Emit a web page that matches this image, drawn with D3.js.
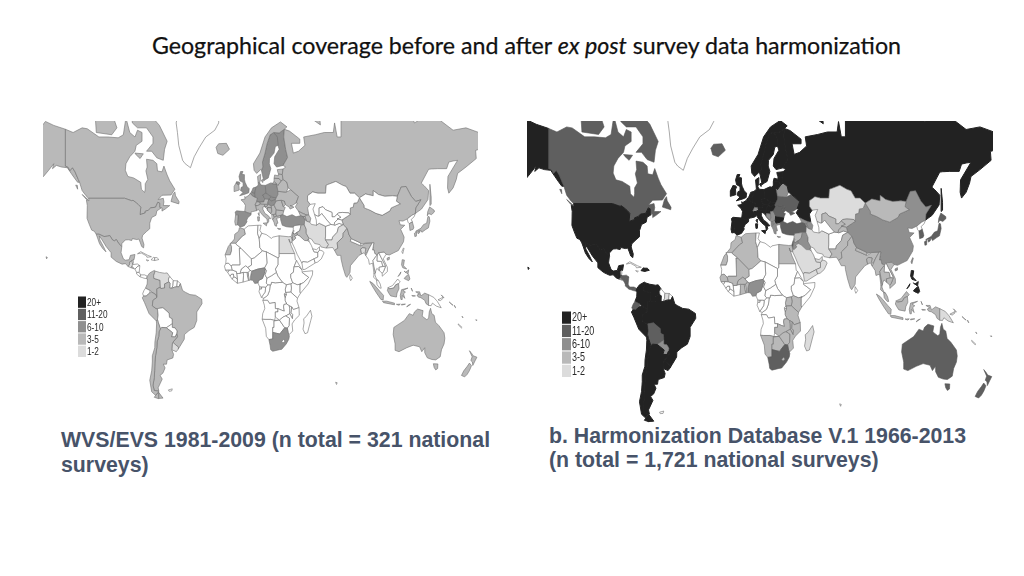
<!DOCTYPE html>
<html>
<head>
<meta charset="utf-8">
<script src="https://cdn.jsdelivr.net/npm/d3@7"></script>
<style>
  html, body { margin: 0; padding: 0; background: #fff; }
  svg { display: block; }
  .country { stroke-linejoin: round; }
</style>
</head>
<body>
<svg id="chart" width="1024" height="576"></svg>
<script>
// survey count bins, darkest first
const bins = ["20+", "11-20", "6-10", "3-5", "1-2"];
const binColors = ["#222222", "#5e5e5e", "#8f8f8f", "#b9b9b9", "#dcdcdc"];

// left map: WVS/EVS
const wvs20 = [];
const wvs11 = [];
const wvs6 = ["Sweden", "Finland", "Spain", "Germany", "Poland", "United Kingdom", "Turkey", "Netherlands", "Belgium", "Czechia", "Hungary", "Nigeria", "South Africa", "Slovakia"];
const wvs3 = ["Alaska", "Canada", "USA", "Mexico", "Iceland", "Norway", "Denmark", "Ireland", "France", "Portugal", "Italy", "Austria", "Switzerland", "Slovenia", "Croatia", "Bosnia", "Serbia", "Macedonia", "Bulgaria", "Romania", "Moldova", "Ukraine", "Belarus", "Lithuania", "Latvia", "Estonia", "Greece", "Russia", "Morocco", "China", "India", "Japan", "South Korea", "Brazil", "Peru", "Colombia", "Chile", "Argentina", "Australia", "New Zealand", "Indonesia", "Philippines", "Georgia", "Armenia", "Azerbaijan", "Iraq", "Jordan", "Papua"];
const wvs1 = ["Venezuela", "Uruguay", "Egypt", "Iran", "Pakistan", "Bangladesh", "Albania", "Guatemala", "El Salvador"];

// right map: Harmonization Database
const hdb20 = ["Alaska", "USA", "Mexico", "Guatemala", "Dominican Rep", "Haiti", "Colombia", "Venezuela", "Peru", "Brazil", "Chile", "Argentina", "Uruguay", "Philippines", "Russia", "Norway", "Sweden", "Finland", "Denmark", "Estonia", "Latvia", "Lithuania", "United Kingdom", "Ireland", "France", "Spain", "Portugal", "Germany", "Netherlands", "Belgium", "Poland", "Czechia", "Slovakia", "Hungary", "Austria", "Italy", "Bulgaria", "Slovenia", "Croatia"];
const hdb11 = ["Canada", "Iceland", "Ecuador", "Bolivia", "Ukraine", "Moldova", "Romania", "Turkey", "Japan", "South Korea", "Australia", "New Zealand", "South Africa", "Honduras", "Nicaragua", "Costa Rica", "Panama", "Israel"];
const hdb6 = ["Paraguay", "Belarus", "Switzerland", "Serbia", "Bosnia", "Macedonia", "Albania", "Greece", "China", "Nigeria", "Jordan", "Iraq", "Georgia", "Armenia", "Azerbaijan", "El Salvador", "Taiwan"];
const hdb3 = ["Mongolia", "Uzbekistan", "Kyrgyzstan", "Tajikistan", "Pakistan", "India", "Nepal", "Bangladesh", "Myanmar", "Thailand", "Vietnam", "Cambodia", "Malaysia", "Indonesia", "Syria", "Lebanon", "Morocco", "Algeria", "Mali", "Senegal", "Burkina Faso", "Ghana", "Benin", "Egypt", "Uganda", "Kenya", "Tanzania", "Zambia", "Zimbabwe", "Malawi", "Mozambique", "Botswana", "Namibia", "Lesotho", "Papua"];
const hdb1 = ["Kazakhstan", "Iran", "Saudi Arabia", "Yemen", "Oman", "UAE", "Kuwait", "Suriname", "Madagascar", "Papua New Guinea"];

// lon,lat outlines, polygons split by |
const outlines = {
  "Alaska": "-168,65.5 -166,68.3 -163,69 -156.5,71.3 -150,70.5 -141,69.7 -141,60.3 -139,60 -137.5,58.9 -135.5,59.8 -133.5,58.5 -131,56 -130,55 -131.5,55 -134,56.5 -136.5,58 -139.5,59.8 -144,60 -148,60.5 -151,59.5 -150,61 -154,59 -158,57 -163,55 -160,58.5 -165,61 -164,63 -161,64.5 -166,64.5",
  "Canada": "-141,69.7 -135,69 -128,70 -124,69.8 -115,68 -108,68 -100,67.8 -96,68.5 -94,72 -91,69 -87,68 -85,69.5 -81.5,69 -81.5,67 -86,66 -87,64.5 -91,63 -94,61 -94.5,59 -92.5,57 -88,56.5 -82.5,55 -82,52.5 -79.5,51.3 -79,52.5 -79,54.5 -77,56 -78.5,58.8 -77.5,60 -78,62.3 -73,62 -70,61 -69.5,58.8 -66,58.5 -64.5,60.3 -62,57.5 -60,55.5 -56,52.5 -59,50.3 -66,50.2 -69,48.5 -65,49 -64.5,47.5 -65,46 -61,46 -60,46 -63.5,44.5 -66,43.6 -66,45 -67.8,45.2 -67.8,47 -69.2,47.4 -71,45.3 -74.7,45 -76.5,44 -79,43.5 -79,42.8 -83,42 -82.5,45.3 -84.5,46.5 -88.5,48.2 -89.5,48 -95,49 -123,49 -125,50 -128,52 -130,55 -131,56 -133.5,58.5 -135.5,59.8 -137.5,58.9 -139,60 -141,60.3|-65,62 -70,62.7 -74,64.5 -78,64.5 -73,66.5 -73,68 -78,70 -85,70 -89,71 -90,73.5 -80,74 -76,72.8 -68,70.5 -62,67 -64,65|-117,69 -105,68.5 -101,70 -105,73 -118,73|-125,72 -120,71.5 -118,74.5 -124,74.5|-87,64 -80.5,63.8 -83,62.5 -86,63.5|-128,50.5 -123.5,48.5 -125,48.7|-59,47.7 -53,46.7 -52.7,47.6 -55.5,50 -56,51.5 -57.5,50.5|-133,54 -131.7,53.9 -131.5,52.5|-100,73 -95,72 -93,74.5 -100,75",
  "USA": "-123,49 -95,49 -89.5,48 -88.5,48.2 -84.5,46.5 -82.5,45.3 -83,42 -79,42.8 -79,43.5 -76.5,44 -74.7,45 -71,45.3 -69.2,47.4 -67.8,47 -67.8,45.2 -67,44.8 -70,43.7 -70.7,41.7 -74,40.7 -75.5,38 -75.5,35.3 -78,33.9 -81,32 -81.5,30.5 -80,27 -80.3,25.2 -81.8,26 -82.8,28 -84,30 -85.5,29.7 -89,30.2 -89.5,29.2 -92,29.6 -94.5,29.5 -97.2,27.5 -97.2,25.9 -99.5,27.5 -101.4,29.7 -103,29 -104.5,29.6 -106.5,31.8 -108.2,31.5 -111,31.3 -114.8,32.5 -117.1,32.5 -118.5,34 -120.6,34.6 -122.5,37.5 -124.2,40.3 -124,46 -124.7,48.4 -122.7,48|-156,20.2 -155,19.8 -155.6,19",
  "Mexico": "-117.1,32.5 -114.8,32.5 -111,31.3 -108.2,31.5 -106.5,31.8 -104.5,29.6 -103,29 -101.4,29.7 -99.5,27.5 -97.2,25.9 -97.8,22.5 -96,19 -94.5,18.2 -91.5,18.5 -90.5,21 -87,21.5 -87.7,18.5 -88.3,18.5 -89.2,17.9 -91,17.2 -91,16 -92.2,14.5 -94.5,16.2 -97,15.9 -101.5,17.5 -105.5,20 -105.5,22.5 -109.4,26 -112.5,29.5 -114.7,31.7 -114.2,29.5 -111.5,26 -109.5,23 -112,24.8 -114.5,27.5 -116,30.5",
  "Greenland": "-43.9,59.8 -41,63 -37,65.5 -32,68 -25,69.5 -22,71 -22,76 -50,76 -55,71 -54,69 -53,66 -50,62 -48,61",
  "Guatemala": "-92.2,14.5 -91,16 -91,17.2 -89.2,17.9 -88.9,15.9 -88.2,15.7 -89.3,14.4 -90.1,13.8",
  "Belize": "-89.2,17.9 -88.3,18.5 -88.2,16.5 -88.9,15.9",
  "Honduras": "-88.9,15.9 -88.2,15.7 -85,16 -83.2,15 -84.7,14.7 -87,13 -87.8,13.4 -89.3,14.4",
  "El Salvador": "-90.1,13.8 -89.3,14.4 -87.8,13.4 -88,13.2",
  "Nicaragua": "-83.2,15 -83.7,11 -85.7,11 -87,13 -84.7,14.7",
  "Costa Rica": "-83.7,11 -82.6,9.5 -83,8.3 -85.7,10 -85.7,11",
  "Panama": "-82.6,9.5 -79.5,9.5 -77.4,8.7 -77.9,7.2 -80,7.5 -81,7.8 -83,8.3",
  "Cuba": "-85,21.9 -82.5,23.1 -77,21 -74.2,20.2 -77.7,19.9 -78,20.7 -82,22.3",
  "Haiti": "-74.4,18.4 -72.7,19.9 -71.7,19.7 -71.7,18",
  "Dominican Rep": "-71.7,19.7 -69.9,19.7 -68.4,18.6 -71.7,18",
  "Jamaica": "-78.3,18.4 -76.3,18.1 -77,17.7",
  "Colombia": "-77.4,8.7 -75.5,10.7 -72,12.2 -71.3,11.8 -72.5,9 -72.3,7.4 -67.5,6.2 -67.3,2 -70,1 -69.9,-4.2 -70.8,-2.5 -74,-1 -75.3,0 -78.8,1.4 -77.5,4 -77.3,7 -77.9,7.2",
  "Venezuela": "-71.3,11.8 -68,11 -64,10.5 -62,10.7 -60,8.5 -61,7 -60.7,5.2 -64,4 -64,1.5 -67,1.2 -67.3,2 -67.5,6.2 -72.3,7.4 -72.5,9",
  "Guyana": "-60,8.5 -57.2,6 -57.5,3 -58.5,1.3 -60,1.5 -59.8,4.5 -60.7,5.2 -61,7",
  "Suriname": "-57.2,6 -54,5.9 -54.5,2.3 -56.5,2 -58.5,1.3 -57.5,3",
  "French Guiana": "-54,5.9 -51.7,4.2 -52.9,2.2 -54.5,2.3",
  "Ecuador": "-78.8,1.4 -75.3,0 -75.5,-1.5 -78.3,-3.4 -80.3,-3.4 -81,-2 -80,0",
  "Peru": "-80.3,-3.4 -78.3,-3.4 -75.5,-1.5 -74,-1 -70.8,-2.5 -69.9,-4.2 -73,-6 -73.5,-9.3 -70.6,-11 -69.5,-11 -69,-15 -69.5,-17.5 -70.4,-18.3 -76,-14 -79.5,-7.5 -81.3,-4.5",
  "Brazil": "-51.7,4.2 -50,0 -48,-1 -44.3,-2.5 -40,-2.9 -35.2,-5.3 -34.9,-8 -39,-13 -39,-18 -41,-22 -45,-23.8 -48.6,-26 -48.7,-28.5 -52,-32.2 -53.4,-33.7 -53.2,-32.7 -57.6,-30.2 -54,-27.2 -54.6,-25.6 -54.3,-24 -55.8,-22.3 -58,-22 -58,-19.9 -58.2,-17 -60.2,-16.2 -60.5,-13.7 -65.3,-10.5 -69.5,-11 -70.6,-11 -73.5,-9.3 -73,-6 -69.9,-4.2 -70,1 -67.3,2 -67,1.2 -64,1.5 -64,4 -60.7,5.2 -59.8,4.5 -60,1.5 -58.5,1.3 -56.5,2 -54.5,2.3 -52.9,2.2",
  "Bolivia": "-69.5,-11 -65.3,-10.5 -60.5,-13.7 -60.2,-16.2 -58.2,-17 -58,-19.9 -62.6,-22.2 -66.2,-22 -67.2,-22.8 -69,-19 -69.5,-17.5 -69,-15",
  "Paraguay": "-58,-19.9 -58,-22 -55.8,-22.3 -54.3,-24 -54.6,-25.6 -55.7,-27.3 -58.6,-27.2 -57.7,-25 -62.6,-22.2",
  "Uruguay": "-57.6,-30.2 -53.2,-32.7 -53.4,-33.7 -54.9,-35 -58.4,-34 -58,-31",
  "Argentina": "-66.2,-22 -62.6,-22.2 -57.7,-25 -58.6,-27.2 -55.7,-27.3 -54.6,-25.6 -54,-27.2 -57.6,-30.2 -58,-31 -58.4,-34 -57,-36.3 -57.6,-38.1 -62,-39 -62.5,-41 -65,-41 -63.6,-42.7 -65.3,-45 -67.5,-46 -65.8,-47.5 -69,-51 -68.4,-52.3 -72,-52 -73,-50 -72,-47 -71.7,-44 -71.5,-40 -71,-37 -70,-33 -69.8,-30 -68.5,-27 -68.3,-24.5 -67.2,-22.8|-68.6,-52.7 -68.6,-54.9 -65.2,-54.8",
  "Chile": "-69.5,-17.5 -69,-19 -67.2,-22.8 -68.3,-24.5 -68.5,-27 -69.8,-30 -70,-33 -71,-37 -71.5,-40 -71.7,-44 -72,-47 -73,-50 -72,-52 -68.4,-52.3 -71,-53.8 -74,-52.5 -75.5,-48 -74,-44 -73.5,-40 -73.5,-37 -71.6,-33 -71.5,-30 -70.5,-25 -70.2,-20 -70.4,-18.3|-68.6,-52.7 -70.5,-53.6 -72,-54.5 -68.6,-55",
  "Falklands": "-61,-51.8 -58,-51.4 -58.5,-52.2 -60.5,-52.3",
  "Iceland": "-24,65.5 -22,66.4 -16,66.5 -13.6,65 -18.7,63.4 -22.7,63.9",
  "Ireland": "-10,53.5 -8,55.2 -8,54.5 -6.3,54.1 -6,52.2 -10,51.6",
  "United Kingdom": "-5.7,50 -1,50.7 1.4,51.2 1.7,52.7 0,53.5 -1.5,55 -2,56 -2,57.6 -4,57.7 -3.1,58.6 -5,58.6 -6.2,57 -5.5,55.5 -3,54.9 -3,53.5 -4.5,53.2 -5,52 -3,51.4|-8,54.5 -8,55.2 -6,55.1 -5.5,54.5 -6.3,54.1",
  "France": "2.5,51 1.6,50.2 -1,49.4 -1.8,49.7 -1.5,48.7 -4.7,48.4 -2.2,47.1 -1.2,46 -1.8,43.4 0.7,42.8 3.2,42.4 3.1,43.2 4.5,43.4 7.5,43.8 7,45.5 7,46 6.2,46.2 7.5,47.6 8.2,49 6.2,49.5 4.2,50|8.6,42.4 9.4,43 9.5,41.5",
  "Spain": "-1.8,43.4 0.7,42.8 3.2,42.4 3,41.8 0.7,40.7 -0.3,39.4 0,38.7 -2,36.8 -5.3,36 -6.4,36.9 -7.4,37.2 -7.2,39 -6.9,41.9 -8.8,41.9 -9.2,43.2 -8,43.7",
  "Portugal": "-8.8,41.9 -6.9,41.9 -7.2,39 -7.4,37.2 -8.9,37 -9.5,38.7",
  "Belgium": "2.5,51 3.4,51.4 6,51 6.2,49.5 4.2,50",
  "Netherlands": "3.4,51.4 4.7,53 7,53.3 6,51",
  "Germany": "6,51 7,53.3 8.8,54 8.6,55 9.8,54.8 11,54 14.2,53.9 14.7,51 12.2,50.3 13.8,48.8 13,47.5 10,47.4 7.5,47.6 8.2,49 6.2,49.5",
  "Denmark": "8.6,55 8.2,57 10.6,57.7 10.5,56 9.8,54.8|11,55.7 12.5,56 12.2,54.9",
  "Switzerland": "6.2,46.2 7.5,47.6 10,47.4 10.4,46.6 8.5,46 7,46",
  "Austria": "10,47.4 13,47.5 13.8,48.8 17,48.7 16.1,47 16.5,46.5 13.7,46.5 10.4,46.6",
  "Italy": "7,45.5 7.5,43.8 8.8,44.4 10.5,43 12.5,41.5 15.5,40 16,38 17,39 16.5,40 18.5,40.2 16,41.8 14,42.5 12.4,44.3 12.3,45.3 13.7,45.7 13.7,46.5 10.4,46.6 8.5,46 7,46|12.5,38 15.5,38.2 15.1,36.7|8.2,41 9.7,41 9.5,39.1 8.5,39",
  "Poland": "14.2,53.9 18.5,54.8 23,54.4 23.9,52 24,50.5 22.7,49.2 19,49.4 18.8,49.6 14.7,51",
  "Czechia": "12.2,50.3 14.7,51 18.8,49.6 17,48.7 13.8,48.8",
  "Slovakia": "18.8,49.6 19,49.4 22.7,49.2 22,48.4 18.8,47.9 17,48.7",
  "Hungary": "17,48.7 18.8,47.9 22,48.4 22.8,48 21,46.2 18.8,45.9 16.5,46.5 16.1,47",
  "Slovenia": "13.7,46.5 16.5,46.5 15.5,45.7 13.7,45.5",
  "Croatia": "13.7,45.5 15.5,45.7 16.5,46.5 18.8,45.9 19,45 16,45.2 15.8,44 18.5,42.5 14.9,44.9",
  "Bosnia": "16,45.2 19,45 19.3,43.5 18.5,42.5 15.8,44",
  "Serbia": "18.8,45.9 21,46.2 22.7,44.2 22.4,42.3 20.5,42 19.3,41.9 18.5,42.5 19.3,43.5 19,45",
  "Albania": "19.3,41.9 20.5,42 21,40.8 20,39.7 19.4,40.5",
  "Macedonia": "20.5,42 22.4,42.3 23,41.3 21,40.8",
  "Greece": "20,39.7 21,40.8 23,41.3 26.3,41.7 26,40.8 23,40.3 24,38 23,37.9 23,36.5 21.7,36.8 21,38.4|23.6,35.5 26.3,35.2 24.8,34.9",
  "Bulgaria": "22.7,44.2 28.6,43.7 27.8,42 26.3,41.7 23,41.3 22.4,42.3",
  "Romania": "21,46.2 22.8,48 26.6,48.2 28.2,45.5 29.7,45.2 28.6,43.7 22.7,44.2",
  "Moldova": "26.6,48.2 29,47.9 30,46.4 28.2,45.5",
  "Ukraine": "24,50.5 24,51.7 30.5,51.4 34,52.3 40,49.7 38.2,47.1 35,46 33.5,46 36.5,45.3 33.5,44.5 32.5,45.5 30.7,46 30,46.4 29,47.9 26.6,48.2 22.8,48 22,48.4 22.7,49.2",
  "Belarus": "23.9,52 24,51.7 30.5,51.4 32,53 31,55 28,56 26.5,55.5 24,53.9 23,54.4",
  "Lithuania": "21,55.3 21,56.4 25,56.3 26.5,55.5 24,53.9 23,54.4",
  "Latvia": "21,56.4 21.5,57.5 24.3,57.2 24.4,57.9 27.4,57.6 28,56 26.5,55.5 25,56.3",
  "Estonia": "23.5,59.2 28,59.4 27.4,57.6 24.4,57.9 24,58.3",
  "Finland": "21,61 21.5,63 25,65 24,66 23.6,67.9 20.8,69 25,68.9 29,69.7 28.5,68 30,65 31.5,62.8 28,60.5 23,60",
  "Sweden": "11.2,59 13,55.5 14.5,56 16.5,56.5 18.5,59.5 17.3,61 17.5,62.5 21,64 22,65.7 24,66 23.6,67.9 20.8,69 18,68.5 15.5,66.3 14,64 12,61.5 12.3,60",
  "Norway": "5,61 5.5,59 7.5,58 10.6,59.2 11.2,59 12.3,60 12,61.5 14,64 15.5,66.3 18,68.5 20.8,69 25,68.9 29,69.7 31,70.2 26,71.2 19,70 14,68 10,64",
  "Russia": "30,60 28,59.4 27.4,57.6 28,56 31,55 32,53 34,52.3 40,49.7 38.2,47.1 39.2,47 37.5,45.5 40,43.5 43.5,42.5 46.5,41.8 48,41.8 47.5,43.5 47,45 49,46.5 47,48 47,50 51,51.5 55,51 61,51 61.5,54 69,55.3 74,54 77,53.5 80,51 83.5,51 87.3,49.2 92,50.7 98,50 98,52 102,50.5 107,49.8 113,50 116.7,49.8 119.7,53.3 123.5,53.5 127.5,49.8 131,47.7 135,48.4 131,45 130.7,42.5 132.5,43.3 135.5,44.5 140.5,48.5 141,52 137.5,53.8 135.3,54.7 141,59.3 143,59.4 148,59.5 155,59.5 156.7,61.5 160,61.8 163.5,62 156,57 155.7,53 156.7,51 160,53 162.5,56 163.5,58 170,60 178,62.5 177.5,64.7 180,65 180,69 170,70 160,69.5 150,71.5 140,72.5 130,71 127,73 113,74 105,77 90,75 80,73 73,73 73,68 70,68 68,71 67,69 60,69 53,68.5 44,68 45,66 40,64.5 36,64 34.5,66.5 41,66.5 41,67.5 33,69.3 29,69.7 28.5,68 30,65 31.5,62.8 28,60.5|142,54.3 143,49.5 143,46.5 142,46 142,50|19.8,54.4 21,55.3 23,54.4|52,71.5 57,70.6 56,73 52,73",
  "Georgia": "40,43.5 43.5,42.5 46.5,41.8 45,41.2 43.5,41.1 41.5,41.5",
  "Armenia": "43.5,41.1 45,41.2 46.5,38.9 44.8,39.7",
  "Azerbaijan": "46.5,41.8 48,41.8 49.5,40.3 48.9,38.4 46.5,38.9 45,41.2",
  "Turkey": "26.3,41.7 28,42 31,41.1 35,42 38,41 41.5,41.5 43.5,41.1 44.8,39.7 44.5,37.2 42,37.2 36.6,36.8 36,36 32.5,36.1 30.5,36.3 27.4,37 26.2,39.5 26,40.8",
  "Syria": "36,36 36.6,36.8 42,37.2 41,34.4 38.8,33.4 36.5,32.4 35.7,33.3 36.5,34.2 35.9,34.6",
  "Lebanon": "35.1,33.1 35.9,34.6 36.5,34.2 35.7,33.3",
  "Israel": "34.3,31.3 35.1,33.1 35.7,33.3 35.5,31.5 35,29.5",
  "Jordan": "35.7,33.3 36.5,32.4 38.8,33.4 39.2,32.1 37,31.5 38,30.5 36,29.2 35,29.5 35.5,31.5",
  "Iraq": "42,37.2 44.5,37.2 46,35 46,33 48,30.5 47.7,30 47,29.1 44.7,29.2 41,31.5 39.2,32.1 38.8,33.4 41,34.4",
  "Kuwait": "47.7,30 48.3,28.6 47,29.1",
  "Saudi Arabia": "35,29.5 36,29.2 38,30.5 37,31.5 39.2,32.1 41,31.5 44.7,29.2 47,29.1 48.3,28.6 50,26.5 51,24.7 52,23 55,22.7 55,20 52,19 47,17 43.3,17.4 42.7,16.4 39,21.5 37,25 35,28",
  "Yemen": "42.7,16.4 43.3,17.4 47,17 52,19 53,16.6 45,12.8 43.4,12.7",
  "Oman": "52,19 55,20 55,22.7 56.3,24 58.7,23.5 59.8,22.4 57.7,19 55,17.2 53,16.6",
  "UAE": "51,24.7 52,23 55,22.7 56.3,24 56.3,25.8 54,24.2",
  "Iran": "44.8,39.7 46.5,38.9 48.9,38.4 50,37.4 54,37 56,38 61,36.5 61,31.5 60.8,30 61,29.5 63.3,27 61.6,25.1 57.5,25.7 56.5,27 52.5,27.6 50,30 48,30.5 46,33 46,35 44.5,37.2",
  "Afghanistan": "61,36.5 65,37.4 67.8,37.2 68,37 71.5,37.9 74.8,37.3 71,36 70,33.5 66.5,31 66,29.5 61,29.5 60.8,30 61,31.5",
  "Pakistan": "61,29.5 66,29.5 66.5,31 70,33.5 71,36 74.8,37.3 77.7,35.5 74.7,33 74.5,31 70,28 70.5,25 68,23.8 66.5,25.4 61.6,25.1 63.3,27",
  "India": "77.7,35.5 74.7,33 74.5,31 70,28 70.5,25 68,23.8 70,21 72.8,21 73,19 74.5,14 76.5,9 77.5,8 80,11 80.3,15 82.5,17 87,21 89,21.8 88.2,24.5 89.8,25.3 92.2,25 91.8,23 93,22 94.5,24.5 97.3,28 92,27.8 89.8,26.8 88.2,26.4 80.2,28.8 81,30.2 79,32.5 78.5,34",
  "Nepal": "80.2,28.8 88.2,26.4 88.2,27.9 81,30.2",
  "Bangladesh": "89,21.8 88.2,24.5 89.8,25.3 92.2,25 91.8,23 92.3,20.8 91,22.5",
  "Sri Lanka": "80,9.7 81.8,7.5 80.5,6 79.8,7.5",
  "China": "74.8,37.3 73.6,39.5 80,42 80.3,45 82.5,45.3 83,47 85.7,47.2 87.3,49.2 91,46 91,45 95.5,44 100,42.6 105,41.7 111,43.7 112,45 119,46.7 116,47.8 116.7,49.8 119.7,53.3 123.5,53.5 127.5,49.8 131,47.7 135,48.4 131,45 130.7,42.5 128,41.7 124.4,40 121,39 118,39.2 119,37.2 122.5,37 119.3,35 122,31 121.5,28.5 117.5,23.7 113.5,22.3 110.5,21.2 108,21.6 106.5,22.8 102.3,22.5 101.2,21.2 99.2,22 98.7,24 97.5,24 98.5,28 97.3,28 92,27.8 88.8,27.3 88.2,27.9 81,30.2 79,32.5 78.5,34 77.7,35.5|108.7,19.3 110.5,20 110.5,18.7 109,18.2",
  "Taiwan": "120.2,23 121.5,25.2 121.9,24.8 120.9,22",
  "Mongolia": "87.3,49.2 92,50.7 98,50 98,52 102,50.5 107,49.8 113,50 116.7,49.8 116,47.8 119,46.7 112,45 111,43.7 105,41.7 100,42.6 95.5,44 91,45 91,46",
  "Kazakhstan": "47,48 49,46.5 53,46.8 51.2,44.5 52.5,42 54.8,41.3 56,41.3 56,45 59,45.5 61,44.2 66,43 66,41 68,41 70,42.2 71,42.8 74,43 79,42.8 80,42 80.3,45 82.5,45.3 83,47 85.7,47.2 87.3,49.2 83.5,51 80,51 77,53.5 74,54 69,55.3 61.5,54 61,51 55,51 51,51.5 47,50",
  "Uzbekistan": "56,45 59,45.5 61,44.2 66,43 66,41 68,41 70,42.2 71.5,41.5 73,40.8 71,40.2 68,38.3 67.8,37.2 65,37.4 62,39.5 58,42.5 56,41.3",
  "Turkmenistan": "52.5,42 54.8,41.3 56,41.3 58,42.5 62,39.5 65,37.4 61,36.5 56,38 54,37 53.8,39.5",
  "Kyrgyzstan": "70,42.2 71,42.8 74,43 79,42.8 80,42 73.6,39.5 70,40 71,40.2 73,40.8 71.5,41.5",
  "Tajikistan": "68,38.3 71,40.2 70,40 73.6,39.5 74.8,37.3 71.5,37.9 68,37 67.8,37.2",
  "Myanmar": "92.3,20.8 93,22 94.5,24.5 97.3,28 98.5,28 97.5,24 98.7,24 99.2,22 101.2,21.2 100,20.3 97.8,18 98.6,14.5 99.5,11 98.6,10 98,14 97.5,16.5 95,15.8 94.4,18.5",
  "Thailand": "100,20.3 101.2,21.2 101,17.7 104.5,17.5 105.5,14.5 102.5,14 102.8,12 100.8,13.4 100,12 99.3,9.5 100.5,7 102,6 100.5,6.5 98.3,8 98.6,10 99.5,11 98.6,14.5 97.8,18",
  "Laos": "101.2,21.2 102.3,22.5 104,20 107.5,15 105.5,14.5 104.5,17.5 101,17.7",
  "Vietnam": "102.3,22.5 106.5,22.8 108,21.6 105.8,19 109,14 109,11.5 105,8.7 105,10.5 106,11.5 107.5,14.5 107.5,15 104,20",
  "Cambodia": "102.8,12 102.5,14 105.5,14.5 107.5,14.5 106,11.5 105,10.5",
  "Malaysia": "100.5,6.5 102,6 103.4,4 104.2,1.4 103,1.5 101,3.5|109.6,1.8 113,3 115,5 117,7 119,5.2 117.7,4.2 115.5,3.5 114,1.5 110.5,1",
  "Indonesia": "109,0 109.6,1.8 110.5,1 114,1.5 115.5,3.5 117.7,4.2 118,1 116.5,-1.5 116,-4 111.5,-3.3 110,-1.5|95.3,5.6 98,4.2 103.5,-0.8 106,-3 105.7,-5.8 104,-5.5 100.5,-1.5 97,3|105.2,-6.5 108.5,-6.5 114.5,-7.7 114.5,-8.7 106,-7.4|119.5,-5.5 119,-3 120,0.5 125,1.5 121,0 123,-1 121.5,-2 122.5,-4.8 120.5,-3 120.5,-5.5|116,-8.4 117,-8.4 119,-8.3 118,-9|120,-8.4 123,-8.3 120,-8.9|124,-10 127,-8.4 125,-9|127.5,1.5 128.5,-0.5 128,0.5|128,-3 130.8,-3.3 128.5,-3.5",
  "Papua": "131,-0.8 134,-0.8 135,-3.3 138,-1.6 141,-2.6 141,-9.1 139,-8 138,-6 135,-4.4 133,-4 132,-2.8 133.8,-2.2",
  "Papua New Guinea": "141,-2.6 145,-4.2 147,-6 147.8,-6.7 150.8,-10.5 147,-9.5 144,-7.7 143,-9.2 141,-9.1|148.3,-5.7 152,-4.2 152,-5 150,-6.2|150.8,-2.7 153,-4.5 152.5,-4.2",
  "Solomon": "157,-7 160,-9 159,-8.5|161,-9 162,-10.5 161.5,-10.2",
  "Vanuatu": "167,-15.5 167.7,-16.5 167.2,-16",
  "New Caledonia": "164,-20 167,-22 166.5,-22.3 164,-20.5",
  "Fiji": "177.5,-17.6 178.6,-17.7 178.2,-18.2",
  "Philippines": "120.5,18.5 122.2,18.3 121.5,15 124,13 121,13.7 120,15.5|122,7.3 123.5,8.7 125.5,9.8 126.5,7 125.5,6 124,6.5|122,11.8 123,11 125.5,12.5 125,10|117.3,8.5 119.5,11.3 119,10",
  "Japan": "130.9,34 135,35.5 137,37.3 139.5,38 140.5,41.2 141.5,41 142,39 140.8,35.7 138.5,34.8 135.8,33.5 135,34.5 131,33.9|130,33 131.7,33.7 131.5,31.5 130.3,31.3|132.5,33.8 134.5,34.2 134,33.3 132.8,32.8|140,41.5 140.3,43.3 141.8,45.4 145.3,44 145.5,43.2 143.2,42 141,42.5",
  "North Korea": "124.4,40 128,41.7 130.7,42.5 129.7,41 127.5,39.8 128.4,38.6 126,37.8 125,38.5",
  "South Korea": "126,37.8 128.4,38.6 129.5,36 129,35 126.5,34.4",
  "Morocco": "-5.9,35.8 -2.2,35.1 -1.2,32.5 -3.5,31.5 -8.7,27.7 -13,27.7 -12,26 -12,23.5 -13,21.3 -17,21.3 -14.5,26 -9.8,30 -9.5,32.5 -6.5,34",
  "Algeria": "-2.2,35.1 1,36.7 8.6,37 8.2,33 9.5,30.2 10,25.3 12,23.5 5.7,19.5 3.3,19 -4.8,25 -8.7,27.3 -8.7,27.7 -3.5,31.5 -1.2,32.5",
  "Tunisia": "8.6,37 11,37 10,34.4 11.5,33 9.5,30.2 8.2,33",
  "Libya": "11.5,33 15,32.3 19,30.3 20,31 25,31.7 25,20 24,19.5 15,23 12,23.5 10,25.3 9.5,30.2",
  "Egypt": "25,31.7 32,31.2 34.3,31.3 35,29.5 34.7,28 33,28.5 32.5,30 34.5,26 37,22 25,22",
  "Sudan": "25,22 37,22 37.5,18.5 38.5,18 36.5,14.3 36,11 34,10 34,8 35.5,4.7 34,4 30.5,3.5 27.5,5 24,8.7 22.8,11 22,13 24,15.5 24,19.5 25,20",
  "Eritrea": "36.5,14.3 38.5,18 42.7,12.5 40,14.5",
  "Ethiopia": "36,11 36.5,14.3 40,14.5 42.7,12.5 42.8,11 48,8 44,4.9 41.9,4 39,3.5 35.5,4.7 34,8 34,10",
  "Somalia": "42.8,11 43.4,11.4 51,12 50.8,9.5 47.5,4 41.5,-1.7 41,-1 41,3.8 41.9,4 44,4.9 48,8",
  "Kenya": "34,4 35.5,4.7 39,3.5 41.9,4 41,3.8 41,-1 41.5,-1.7 39.2,-4.7 34,-1 34.5,1.5",
  "Uganda": "30.5,3.5 34,4 34.5,1.5 34,-1 30,-1.2 29.7,0.7",
  "Tanzania": "34,-1 39.2,-4.7 38.8,-6.5 40.4,-10.4 36,-11.6 34.7,-10 32.8,-9.3 30.8,-8.2 29.5,-6 29.5,-4.5 30.5,-2.5 30,-1.2",
  "Rwanda": "29,-2 30,-1.2 30.5,-2.5 29,-2.7",
  "Burundi": "29,-2.7 30.5,-2.5 29.5,-4.5",
  "DR Congo": "12.3,-6 13,-4.7 16,-3 17.5,0 18,3.5 18.6,3.5 19,5 22,4.7 27.5,5 30.5,3.5 29.7,0.7 30,-1.2 29,-2 29,-2.7 29.5,-4.5 29.5,-6 30.8,-8.2 28.7,-8.5 28.4,-10 29,-12.5 27,-12 24,-11 22,-11 21.8,-7.3 17.5,-7.9 16,-6",
  "Congo": "11.2,-4.2 13,-4.7 16,-3 17.5,0 18,3.5 16.2,3.5 14.5,2 14,-1 12.5,-2.7",
  "Gabon": "9.3,-0.7 9.8,1 11.3,1 11.3,2.2 13.3,2.2 14.5,2 14,-1 12.5,-2.7 11.2,-4.2",
  "Eq Guinea": "9.8,1 9.8,2.3 11.3,2.2 11.3,1",
  "Cameroon": "8.5,4.6 9.8,2.3 11.3,2.2 13.3,2.2 14.5,2 16.2,3.5 15,4.5 15.5,7.5 14,9.5 15.2,12 14.2,13 13.5,10.5 12,7.3 10,6.5 8.8,6",
  "CAR": "15,4.5 16.2,3.5 18,3.5 18.6,3.5 19,5 22,4.7 27.5,5 24,8.7 22.8,11 19,9 15.5,7.5",
  "Chad": "14.2,13 15.2,12 14,9.5 15.5,7.5 19,9 22.8,11 22,13 24,15.5 24,19.5 15,23 15.5,16.5 13.6,13.7",
  "Niger": "3.6,11.7 2.3,12.3 0.5,14 3.5,15.4 3.3,19 5.7,19.5 12,23.5 15,23 15.5,16.5 13.6,13.7 8.5,13",
  "Nigeria": "2.7,6.4 2.8,9 3.6,11.7 8.5,13 13.6,13.7 14.2,13 13.5,10.5 12,7.3 10,6.5 8.8,6 8.5,4.6 6,4.3 4.5,6.2",
  "Benin": "1.6,6.2 2.7,6.4 2.8,9 3.6,11.7 2.3,12.3 0.9,11",
  "Togo": "1.2,6.1 1.6,6.2 0.9,11 0,11 0.5,8",
  "Ghana": "-3.2,5.1 1.2,6.1 0.5,8 0,11 -2.9,11 -2.7,9",
  "Burkina Faso": "-5.4,10.4 -2.9,11 0,11 0.9,11 2.3,12.3 0.5,14 -1,15 -4.5,13",
  "Ivory Coast": "-7.5,4.4 -3.2,5.1 -2.7,9 -2.9,11 -5.4,10.4 -8,10.3 -7.5,7",
  "Liberia": "-11.5,6.9 -7.5,4.4 -7.5,7 -8.5,7.7 -10.3,8.5",
  "Sierra Leone": "-13.2,8.8 -11.5,6.9 -10.3,8.5 -10.5,10 -12,10",
  "Guinea": "-15,11 -13.2,8.8 -12,10 -10.5,10 -10.3,8.5 -8.5,7.7 -7.5,7 -8,10.3 -8.2,11.5 -11.4,12.4 -13.7,12.5",
  "Guinea-Bissau": "-16.7,12.4 -13.7,12.5 -15,11",
  "Senegal": "-17.5,14.7 -16.5,16.2 -14.5,16.6 -12.2,14.8 -11.4,12.4 -13.7,12.5 -16.7,12.4",
  "Mali": "-12.2,14.8 -11.4,12.4 -8.2,11.5 -8,10.3 -5.4,10.4 -4.5,13 -1,15 0.5,14 3.5,15.4 3.3,19 -4.8,25 -6,25 -5.5,15.5 -11.5,15.5",
  "Mauritania": "-17,21.3 -13,21.3 -12,23.5 -12,26 -13,27.7 -8.7,27.7 -8.7,27.3 -4.8,25 -6,25 -5.5,15.5 -11.5,15.5 -12.2,14.8 -14.5,16.6 -16.5,16.2 -16.2,19",
  "Angola": "11.8,-17.3 14,-17.4 18.5,-17.4 21.4,-18 22,-16 22,-13 24,-13 24,-11 22,-11 21.8,-7.3 17.5,-7.9 16,-6 12.3,-6 13.5,-9 13.8,-11 12.2,-14",
  "Namibia": "11.8,-17.3 14,-17.4 18.5,-17.4 21.4,-18 25.2,-17.8 21,-18.3 21,-22 20,-22 20,-28.4 17,-28.7 15,-27 14.5,-22.5",
  "Botswana": "21,-18.3 25.2,-17.8 29.3,-22.2 26.5,-24.7 25.5,-25.7 23,-25.3 20,-24.8 20,-22 21,-22",
  "Zambia": "22,-13 24,-13 24,-11 27,-12 29,-12.5 28.4,-10 28.7,-8.5 30.8,-8.2 32.8,-9.3 33.2,-11 33.3,-14 30.2,-15.3 28,-16 25.2,-17.8 22,-16",
  "Zimbabwe": "25.2,-17.8 28,-16 30.2,-15.3 33,-16.7 32.8,-21 31.3,-22.4 29.3,-22.2",
  "Malawi": "32.8,-9.3 34.7,-10 34.3,-13.5 35.5,-14.5 35.3,-17 34.2,-15.5 33.3,-14 33.2,-11",
  "Mozambique": "34.7,-10 36,-11.6 40.4,-10.4 40.6,-15 37,-17.7 35,-20 35.5,-24 32.9,-25.9 32,-25 31.3,-22.4 32.8,-21 33,-16.7 30.2,-15.3 33.3,-14 34.2,-15.5 35.3,-17 35.5,-14.5 34.3,-13.5",
  "South Africa": "17,-28.7 20,-28.4 20,-24.8 23,-25.3 25.5,-25.7 26.5,-24.7 29.3,-22.2 31.3,-22.4 32,-25 32.9,-26.8 32.5,-28.5 30.5,-31 27,-33.8 25,-34 20,-34.8 18.4,-34 18,-32",
  "Lesotho": "27,-29.6 28.5,-28.6 29.4,-29.6 28,-30.5",
  "Madagascar": "49.3,-12 50.4,-15.5 49.5,-18 47,-25 45,-25.5 43.5,-23 44.3,-19.5 44,-17 46,-15.7",
  "Australia": "114,-22 113.5,-26 115,-31 115,-34.3 118,-35 124,-33 129,-31.7 134,-32.5 135.7,-35 138,-33 138,-35.5 140,-38 143.5,-38.8 146.5,-39 150,-37.5 151,-34 153,-31 153.6,-28 153,-25 149,-21 146.3,-19 145.3,-15 143.5,-14 142.5,-10.8 141.5,-13 141,-16.8 139.5,-17.5 136,-15.5 136.7,-12.2 132.5,-11.3 130,-13 129,-15 126,-14 122.2,-18|144.7,-40.8 148.2,-40.9 148,-43 146.5,-43.6 145.3,-42.5",
  "New Zealand": "172.7,-34.5 174.6,-36 175.5,-37 178.5,-37.7 177,-39.5 175.3,-41.6 175,-40 173.8,-39.3 174.8,-37.5|172.7,-40.5 174.3,-41.7 172.8,-43.8 171,-45.5 169,-46.6 166.5,-46 168.3,-44 171,-42",
  "Kerguelen": "68.8,-48.8 70,-49 69.5,-49.7"
};

const titleBefore = "Geographical coverage before and after ";
const titleItalic = "ex post";
const titleAfter = " survey data harmonization";
const leftCaption = ["WVS/EVS 1981-2009 (n total = 321 national", "surveys)"];
const rightCaption = ["b. Harmonization Database V.1 1966-2013", "(n total = 1,721 national surveys)"];

const features = Object.keys(outlines).map(name => ({
  type: "Feature",
  properties: {name: name},
  geometry: {
    type: "MultiPolygon",
    coordinates: outlines[name].split("|").map(ring => {
      const pts = ring.split(" ").map(p => p.split(",").map(Number));
      pts.push(pts[0]);
      return [pts];
    })
  }
}));

const mercator = lat => Math.log(Math.tan(Math.PI / 4 + lat * Math.PI / 360)) * 180 / Math.PI;

const svg = d3.select("#chart");
const defs = svg.append("defs");
defs.append("filter").attr("id", "soft")
  .append("feGaussianBlur").attr("stdDeviation", 0.4);

function colorLookup(lists) {
  const m = new Map();
  lists.forEach((list, i) => list.forEach(n => m.set(n, binColors[i])));
  return m;
}

function drawMap(o) {
  const x = d3.scaleLinear().domain([0, 100]).range([o.x0, o.x0 + 100 * o.kx]);
  const y = d3.scaleLinear().domain([0, 100]).range([o.y0, o.y0 - 100 * o.ky]);
  const path = d3.geoPath(d3.geoTransform({
    point(lon, lat) { this.stream.point(x(lon), y(mercator(lat))); }
  }));

  defs.append("clipPath").attr("id", o.id + "-clip")
    .append("rect")
    .attr("x", o.left).attr("y", o.top)
    .attr("width", o.right - o.left).attr("height", o.bottom - o.top);

  const g = svg.append("g").attr("filter", "url(#soft)")
    .append("g").attr("clip-path", `url(#${o.id}-clip)`);
  const fills = colorLookup(o.lists);
  g.selectAll("path")
    .data(features)
    .join("path")
    .attr("class", "country")
    .attr("d", path)
    .attr("fill", d => fills.get(d.properties.name) || "#fff")
    .attr("stroke", d => {
      const c = fills.get(d.properties.name);
      return c === binColors[0] ? binColors[0] : c === binColors[1] ? "#555" : "#6f6f6f";
    })
    .attr("stroke-width", d => fills.get(d.properties.name) === binColors[0] ? 1 : 0.6);

  // legend
  const ly = d3.scaleBand().domain(bins).range(o.legendY).paddingInner(0.08);
  const lg = svg.append("g").attr("filter", "url(#soft)");
  lg.selectAll("rect")
    .data(bins)
    .join("rect")
    .attr("x", o.legendX)
    .attr("y", d => ly(d))
    .attr("width", o.swatch)
    .attr("height", ly.bandwidth())
    .attr("fill", (d, i) => binColors[i]);
  lg.selectAll("text")
    .data(bins)
    .join("text")
    .attr("transform", d => `translate(${o.legendX + o.swatch + 1},${ly(d) + ly.bandwidth() / 2 + 3.8}) scale(0.75,1)`)
    .attr("font-family", "'Liberation Sans', Arial, sans-serif")
    .attr("font-size", o.legendFont)
    .attr("fill", "#2a2a2a")
    .text(d => d);
}

drawMap({
  id: "wvs", lists: [wvs20, wvs11, wvs6, wvs3, wvs1],
  x0: 247, kx: 1.288, y0: 290.5, ky: 1.636,
  left: 43, right: 478, top: 121, bottom: 412,
  legendX: 78, legendY: [296.5, 357], swatch: 8, legendFont: 11
});
drawMap({
  id: "hdb", lists: [hdb20, hdb11, hdb6, hdb3, hdb1],
  x0: 744.2, kx: 1.387, y0: 304, ky: 1.781,
  left: 527, right: 993, top: 121, bottom: 428,
  legendX: 562, legendY: [311.5, 377], swatch: 9, legendFont: 12
});

// title
const title = svg.append("text")
  .attr("x", 526.5).attr("y", 54)
  .attr("text-anchor", "middle")
  .attr("font-family", "Lato, 'Open Sans', sans-serif")
  .attr("font-size", 23.2)
  .attr("fill", "#111")
  .attr("stroke", "#111").attr("stroke-width", 0.25);
title.append("tspan").text(titleBefore);
title.append("tspan").attr("font-style", "italic").text(titleItalic);
title.append("tspan").text(titleAfter);

// captions
function caption(lines, x, y0, lineGap) {
  svg.append("g").selectAll("text")
    .data(lines)
    .join("text")
    .attr("x", x)
    .attr("y", (d, i) => y0 + i * lineGap)
    .attr("font-family", "'Liberation Sans', Arial, sans-serif")
    .attr("font-weight", "bold")
    .attr("font-size", 21.3)
    .attr("fill", "#475369")
    .text(d => d);
}
caption(leftCaption, 61, 447, 25);
caption(rightCaption, 549, 443, 24);
</script>
</body>
</html>
